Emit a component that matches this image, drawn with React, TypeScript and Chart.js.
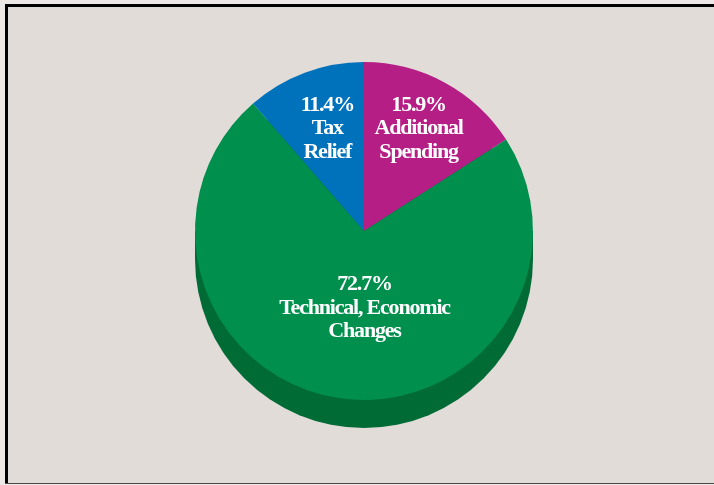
import React, { useEffect, useRef } from "react";
import { Chart, registerables } from "chart.js";

Chart.register(...registerables);

const categories = ["Additional Spending", "Technical, Economic Changes", "Tax Relief"];
const shares = [15.9, 72.7, 11.4];
const labelLines = [
  ["15.9%", "Additional", "Spending"],
  ["72.7%", "Technical, Economic", "Changes"],
  ["11.4%", "Tax", "Relief"],
];
const sliceColors = ["#b41e85", "#008f4c", "#0071bb"];

const W = 714;
const H = 485;

const framePlugin = {
  id: "frame",
  beforeDraw(chart: any) {
    const ctx = chart.ctx;
    ctx.save();
    ctx.fillStyle = "#ece8e5";
    ctx.fillRect(0, 0, W, H);
    ctx.fillStyle = "#e2dcd9";
    ctx.fillRect(5, 4, W - 5, 480);
    ctx.fillStyle = "#000000";
    ctx.fillRect(5, 4, W - 5, 3);
    ctx.fillRect(5, 4, 3, 480);
    ctx.fillStyle = "#4a4a4a";
    ctx.fillRect(5, 483, W - 5, 1);
    ctx.restore();
  },
};

const extrudePlugin = {
  id: "extrude",
  beforeDatasetsDraw(chart: any, _args: any, opts: any) {
    const meta = chart.getDatasetMeta(0);
    const arc = meta.data[0];
    if (!arc) return;
    const { x, y, outerRadius } = arc.getProps(["x", "y", "outerRadius"], true);
    const d = opts.depth || 28;
    const ctx = chart.ctx;
    ctx.save();
    ctx.fillStyle = opts.color || "#006b35";
    ctx.beginPath();
    ctx.arc(x, y + d, outerRadius, 0, Math.PI * 2);
    ctx.fill();
    ctx.fillRect(x - outerRadius, y, outerRadius * 2, d);
    ctx.restore();
  },
};

const labelPlugin = {
  id: "sliceLabels",
  afterDatasetsDraw(chart: any, _args: any, opts: any) {
    const meta = chart.getDatasetMeta(0);
    const ctx = chart.ctx;
    ctx.save();
    ctx.fillStyle = "#ffffff";
    ctx.font = "bold 22px 'Liberation Serif', 'Times New Roman', serif";
    try { (ctx as any).letterSpacing = "-1.2px"; } catch (e) {}
    ctx.textAlign = "center";
    ctx.textBaseline = "middle";
    const lh = 23.5;
    meta.data.forEach((arc: any, i: number) => {
      const { x, y, outerRadius } = arc.getProps(["x", "y", "outerRadius"], true);
      const off = opts.anchors[i];
      const cx = x + off[0] * outerRadius;
      const cy = y + off[1] * outerRadius;
      const lines = labelLines[i];
      lines.forEach((t: string, k: number) => {
        ctx.fillText(t, cx + 0.5, cy + 2.5 + (k - (lines.length - 1) / 2) * lh);
      });
    });
    ctx.restore();
  },
};

export default function App() {
  const ref = useRef<HTMLCanvasElement | null>(null);
  useEffect(() => {
    if (!ref.current) return;
    const chart = new Chart(ref.current, {
      type: "pie",
      data: {
        labels: categories,
        datasets: [
          {
            data: shares,
            backgroundColor: sliceColors,
            borderWidth: 0,
          },
        ],
      },
      options: {
        responsive: false,
        animation: false,
        layout: { padding: { left: 195, right: 181, top: 62, bottom: 85 } },
        plugins: {
          legend: { display: false },
          tooltip: { enabled: false },
          extrude: { depth: 28, color: "#006b35" },
          sliceLabels: { anchors: [[0.32, -0.62], [0.0, 0.44], [-0.22, -0.62]] },
        } as any,
      },
      plugins: [framePlugin, extrudePlugin, labelPlugin],
    });
    return () => chart.destroy();
  }, []);
  return (
    <div style={{ position: "fixed", left: 0, top: 0, width: W, height: H }}>
      <canvas ref={ref} width={W} height={H} style={{ display: "block" }} />
    </div>
  );
}
